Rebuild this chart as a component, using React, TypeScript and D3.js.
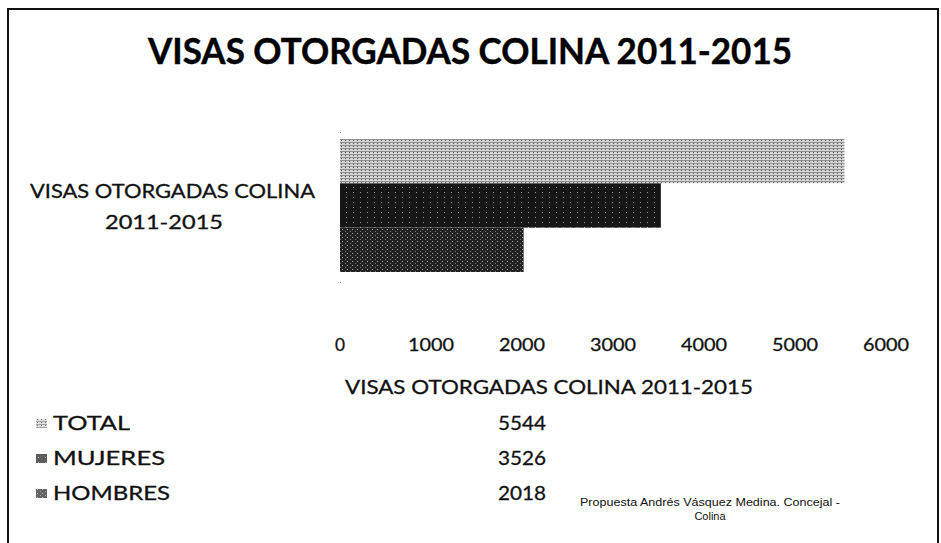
import React, { useEffect, useRef } from "react";
import * as d3 from "d3";

const TITLE = "VISAS OTORGADAS  COLINA 2011-2015";
const CATEGORY_LINES = ["VISAS OTORGADAS COLINA", "2011-2015"];
const SERIES = ["TOTAL", "MUJERES", "HOMBRES"];
const VALUES = [5544, 3526, 2018];
const COLORS = ["#c4c4c4", "#161616", "#222222"];
const TICKS = [0, 1000, 2000, 3000, 4000, 5000, 6000];
const TABLE_HEADER = "VISAS OTORGADAS COLINA 2011-2015";
const FOOT = ["Propuesta Andrés Vásquez Medina. Concejal -", "Colina"];

const W = 941;
const H = 543;

export default function App() {
  const ref = useRef<SVGSVGElement>(null);

  useEffect(() => {
    const svg = d3.select(ref.current);
    svg.selectAll("*").remove();
    const font = "Lato, 'Open Sans', sans-serif";

    const defs = svg.append("defs");
    const p0 = defs.append("pattern").attr("id", "pat0").attr("patternUnits", "userSpaceOnUse")
      .attr("width", 4).attr("height", 3);
    p0.append("rect").attr("width", 4).attr("height", 3).attr("fill", "#d6d6d6");
    p0.append("rect").attr("y", 1).attr("width", 4).attr("height", 1).attr("fill", "#8e8e8e");
    p0.append("rect").attr("x", 1).attr("y", 2).attr("width", 1).attr("height", 1).attr("fill", "#555");
    const p1 = defs.append("pattern").attr("id", "pat1").attr("patternUnits", "userSpaceOnUse")
      .attr("width", 7).attr("height", 5);
    p1.append("rect").attr("width", 7).attr("height", 5).attr("fill", COLORS[1]);
    p1.append("rect").attr("x", 3).attr("y", 2).attr("width", 1).attr("height", 1).attr("fill", "#9a9a9a");
    const p2 = defs.append("pattern").attr("id", "pat2").attr("patternUnits", "userSpaceOnUse")
      .attr("width", 5).attr("height", 4);
    p2.append("rect").attr("width", 5).attr("height", 4).attr("fill", COLORS[2]);
    p2.append("rect").attr("x", 2).attr("y", 1).attr("width", 1).attr("height", 1).attr("fill", "#aaaaaa");
    p2.append("rect").attr("x", 0).attr("y", 3).attr("width", 1).attr("height", 1).attr("fill", "#777");

    svg.append("rect").attr("width", W).attr("height", H).attr("fill", "#fff");
    // border
    svg.append("path")
      .attr("d", `M8,${H} L8,9 L938,9 L938,${H}`)
      .attr("fill", "none").attr("stroke", "#111").attr("stroke-width", 2);

    // title
    svg.append("text")
      .attr("x", 148).attr("y", 64)
      .attr("font-family", font).attr("font-weight", 700)
      .attr("font-size", 36)
      .attr("textLength", 644).attr("lengthAdjust", "spacingAndGlyphs")
      .attr("fill", "#000").attr("stroke", "#000").attr("stroke-width", 0.4)
      .text(TITLE);

    const x = d3.scaleLinear().domain([0, 6000]).range([340, 886]);
    const y = d3.scaleBand<string>().domain(SERIES).range([139, 272]).padding(0);

    svg.append("g").selectAll("rect").data(SERIES).join("rect")
      .attr("x", x(0))
      .attr("y", (d) => y(d)!)
      .attr("width", (d, i) => x(VALUES[i]) - x(0))
      .attr("height", y.bandwidth())
      .attr("fill", (d, i) => `url(#pat${i})`);

    // axis end dots
    svg.append("rect").attr("x", x(0)).attr("y", 132).attr("width", 1).attr("height", 1).attr("fill", "#888");
    svg.append("rect").attr("x", x(0)).attr("y", 282).attr("width", 1).attr("height", 1).attr("fill", "#888");

    const txtStroke = (g: d3.Selection<SVGGElement, unknown, null, undefined>) =>
      g.attr("stroke", "#111").attr("stroke-width", 0.3);

    // category label
    const cat = svg.append("g").attr("font-family", font).attr("font-size", 19).attr("fill", "#111");
    txtStroke(cat);
    cat.append("text").attr("x", 30).attr("y", 198)
      .attr("textLength", 285).attr("lengthAdjust", "spacingAndGlyphs").text(CATEGORY_LINES[0]);
    cat.append("text").attr("x", 105).attr("y", 229)
      .attr("textLength", 118).attr("lengthAdjust", "spacingAndGlyphs").text(CATEGORY_LINES[1]);

    // tick labels
    const ax = svg.append("g").attr("font-family", font).attr("font-size", 18).attr("fill", "#111");
    txtStroke(ax);
    ax.selectAll("text").data(TICKS).join("text")
      .attr("x", (d) => x(d))
      .attr("y", 351)
      .attr("text-anchor", "middle")
      .attr("textLength", (d) => (d === 0 ? 10 : 46))
      .attr("lengthAdjust", "spacingAndGlyphs")
      .text((d) => String(d));

    // data table
    const tb = svg.append("g").attr("font-family", font).attr("fill", "#111");
    txtStroke(tb);
    tb.append("text").attr("x", 345).attr("y", 394).attr("font-size", 19)
      .attr("textLength", 408).attr("lengthAdjust", "spacingAndGlyphs").text(TABLE_HEADER);

    const rowY = [430, 465, 500];
    const nameW = [77, 112, 117];
    SERIES.forEach((s, i) => {
      tb.append("rect").attr("x", 36).attr("y", rowY[i] - 11).attr("width", 11).attr("height", 9)
        .attr("stroke", "none")
        .attr("fill", `url(#pat${i})`).attr("opacity", i === 0 ? 0.8 : 0.7);
      tb.append("text").attr("x", 53).attr("y", rowY[i]).attr("font-size", 19)
        .attr("textLength", nameW[i]).attr("lengthAdjust", "spacingAndGlyphs").text(s);
      tb.append("text").attr("x", 546).attr("y", rowY[i]).attr("font-size", 19)
        .attr("text-anchor", "end")
        .attr("textLength", 48).attr("lengthAdjust", "spacingAndGlyphs").text(String(VALUES[i]));
    });

    const ft = svg.append("g").attr("font-family", "'Liberation Sans', Arial, sans-serif")
      .attr("font-size", 11).attr("fill", "#111");
    ft.append("text").attr("x", 580).attr("y", 506)
      .attr("textLength", 260).attr("lengthAdjust", "spacingAndGlyphs").text(FOOT[0]);
    ft.append("text").attr("x", 710).attr("y", 520).attr("text-anchor", "middle").text(FOOT[1]);
  }, []);

  return (
    <svg
      ref={ref}
      width={W}
      height={H}
      style={{ position: "absolute", left: 0, top: 0, display: "block" }}
    />
  );
}
